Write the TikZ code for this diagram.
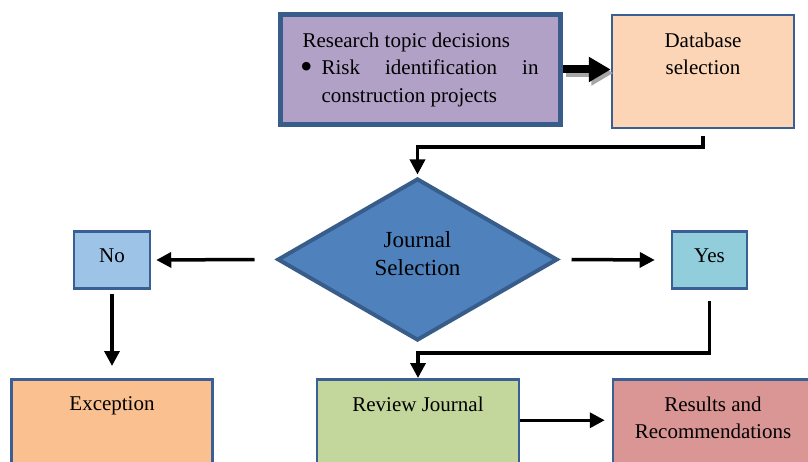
\documentclass[tikz,border=0pt]{standalone}
\usepackage{fontspec}
\setmainfont{Liberation Serif}
\usetikzlibrary{shapes.geometric, arrows.meta}

\definecolor{edgeblue}{HTML}{3A5F95}
\definecolor{decedge}{HTML}{385D8A}
\definecolor{topicfill}{HTML}{B2A1C7}
\definecolor{dbfill}{HTML}{FBD5B5}
\definecolor{decfill}{HTML}{4F81BD}
\definecolor{nofill}{HTML}{9DC3E6}
\definecolor{yesfill}{HTML}{92CDDC}
\definecolor{excfill}{HTML}{FAC090}
\definecolor{revfill}{HTML}{C3D69B}
\definecolor{resfill}{HTML}{D99694}

\newcommand{\boxfont}{\fontsize{21}{27.5}\selectfont}

\begin{document}
\begin{tikzpicture}[x=1pt, y=-1pt,
        block/.style={draw=edgeblue, line width=2.5pt, inner sep=0pt},
        boxtext/.style={label={[anchor=north, yshift=-18.5pt, inner sep=0pt, align=center, font=\boxfont]north:#1}},
        decision/.style={diamond, draw=decedge, fill=decfill, line width=4pt, minimum width=280pt, minimum height=162pt, inner sep=0pt, align=center, text depth=12pt, font=\fontsize{23}{28}\selectfont},
        arrow/.style={-{Triangle[length=15pt, width=15pt]}, line width=3.5pt},
        bigarrow/.style={-{Triangle[length=22pt, width=24pt]}, line width=8pt}]

        \useasboundingbox (0,0) rectangle (808,462);
        \clip (0,0) rectangle (808,462);

        % Nodes
        \node [block, draw=decedge, line width=5pt, fill=topicfill, minimum width=280pt, minimum height=110pt, inner xsep=22pt, text width=236pt, align=justify, font=\boxfont] (topic) at (420.5,69.5) {\parindent=0pt\tolerance=10000
            Research topic decisions\par
            \leftskip=19pt\noindent\llap{\raisebox{-3.5pt}{\scalebox{1.7}{\textbullet}}\hspace{9pt}}Risk identification in \mbox{construction} projects\par};
        \node [block, fill=dbfill, minimum width=182pt, minimum height=113pt, boxtext={Database\\selection}] (db) at (703,71.5) {};
        \node [decision] (dec) at (417.5,259.5) {Journal\\Selection};
        \node [block, fill=nofill, minimum width=76pt, minimum height=57pt, boxtext=No] (no) at (112,260) {};
        \node [block, fill=yesfill, minimum width=75pt, minimum height=57pt, boxtext=Yes] (yes) at (709.5,260) {};
        \node [block, fill=excfill, minimum width=201pt, minimum height=100pt, boxtext=Exception] (exc) at (112,429.25) {};
        \node [block, fill=revfill, minimum width=202pt, minimum height=100pt, boxtext={Review Journal}] (rev) at (418,429.25) {};
        \node [block, fill=resfill, minimum width=200pt, minimum height=100pt, boxtext={Results and\\Recommendations}] (res) at (713,429.25) {};

        % Arrows
        \draw [bigarrow, draw=gray!70, transform canvas={shift={(2.5pt,-3.5pt)}}] (topic.east) -- (topic.east -| db.west);
        \draw [bigarrow] (topic.east) -- (topic.east -| db.west);
        \draw [arrow] ([yshift=-7pt]db.south) -- ++(0,11) -| ([yshift=2pt]dec.north);
        \draw [arrow] ([xshift=-21pt]dec.west) -- ([xshift=5pt]no.east);
        \draw [arrow] ([xshift=12pt]dec.east) -- ([xshift=-16pt]yes.west);
        \draw [arrow] ([yshift=-4pt]no.south) -- ([yshift=12pt]exc.north);
        \draw [arrow] ([yshift=-11pt]yes.south) -- ++(0,52) -| (rev.north);
        \draw [arrow] ([yshift=9pt]rev.east) -- ([yshift=9pt, xshift=-7pt]res.west);
\end{tikzpicture}
\end{document}
